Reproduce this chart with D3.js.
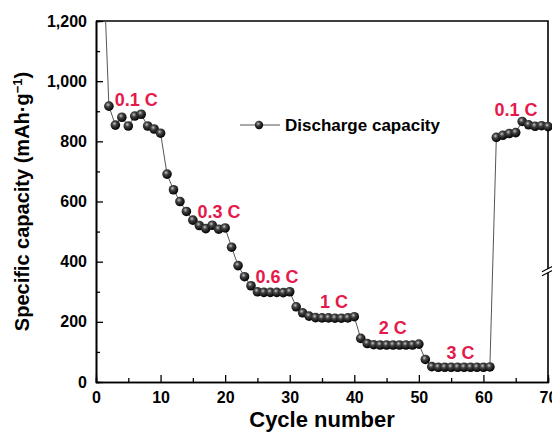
<!DOCTYPE html>
<html>
<head>
<meta charset="utf-8">
<script src="https://cdn.jsdelivr.net/npm/d3@7"></script>
<style>
  body { margin: 0; background: #fff; }
  .chart text { font-family: "Liberation Sans", Arial, sans-serif; font-weight: bold; }
  .axis path, .axis line { stroke: #000; }
  .axis text { font-size: 16px; fill: #000; }
</style>
</head>
<body>
<div class="chart"></div>
<script>
// Cycle numbers and discharge capacity (mAh/g)
var cycles = [1, 2, 3, 4, 5, 6, 7, 8, 9, 10,
    11, 12, 13, 14, 15, 16, 17, 18, 19, 20,
    21, 22, 23, 24, 25, 26, 27, 28, 29, 30,
    31, 32, 33, 34, 35, 36, 37, 38, 39, 40,
    41, 42, 43, 44, 45, 46, 47, 48, 49, 50,
    51, 52, 53, 54, 55, 56, 57, 58, 59, 60,
    61, 62, 63, 64, 65, 66, 67, 68, 69, 70];
var capacity = [1470, 917, 854, 880, 851, 884, 890, 851, 841, 827,
    691, 639, 600, 567, 538, 520, 510, 521, 508, 512,
    448, 387, 350, 320, 300, 298, 298, 298, 297, 300,
    250, 230, 219, 214, 213, 213, 212, 212, 213, 217,
    145, 128, 124, 123, 123, 123, 123, 123, 123, 126,
    75, 51, 49, 49, 49, 49, 49, 49, 49, 49,
    50, 813, 820, 826, 829, 866, 855, 850, 852, 849];

// Rate labels and where they sit (cycle, capacity of text baseline)
var rateLabels = ["0.1 C", "0.3 C", "0.6 C", "1 C", "2 C", "3 C", "0.1 C"];
var rateCycle = [2.9, 15.7, 24.7, 34.7, 43.8, 54.3, 61.7];
var rateCap = [917, 545, 328, 245, 160, 76, 885];

var xTicks = [0, 10, 20, 30, 40, 50, 60, 70];
var yTicks = [0, 200, 400, 600, 800, 1000, 1200];

var svgWidth = 552;
var svgHeight = 434;
var margin = { top: 21, right: 4, bottom: 52, left: 96 };
var width = svgWidth - margin.left - margin.right;
var height = svgHeight - margin.top - margin.bottom;

var svg = d3.select(".chart")
    .append("svg")
    .attr("width", svgWidth)
    .attr("height", svgHeight);

// sphere-like marker
var defs = svg.append("defs");
var grad = defs.append("radialGradient")
    .attr("id", "ball")
    .attr("cx", "40%").attr("cy", "35%").attr("r", "65%");
grad.append("stop").attr("offset", "0%").attr("stop-color", "#c8c8c8");
grad.append("stop").attr("offset", "35%").attr("stop-color", "#444");
grad.append("stop").attr("offset", "100%").attr("stop-color", "#000");

defs.append("clipPath").attr("id", "plotClip")
    .append("rect")
    .attr("x", -10).attr("y", 0)
    .attr("width", width + 20).attr("height", height + 10);

var chart = svg.append("g")
    .attr("transform", `translate(${margin.left}, ${margin.top})`);

var x = d3.scaleLinear().domain([0, 70]).range([0, width]);
var y = d3.scaleLinear().domain([0, 1200]).range([height, 0]);

var data = cycles.map(function(c, i) { return { c: c, v: capacity[i] }; });

// minor ticks
chart.append("g")
    .attr("class", "axis")
    .attr("transform", `translate(0, ${height})`)
    .call(d3.axisBottom(x).tickValues(d3.range(5, 70, 10)).tickSize(-4).tickFormat(""));
chart.append("g")
    .attr("class", "axis")
    .call(d3.axisLeft(y).tickValues(d3.range(100, 1200, 200)).tickSize(-4).tickFormat(""));

// major axes
chart.append("g")
    .attr("class", "axis")
    .attr("transform", `translate(0, ${height})`)
    .call(d3.axisBottom(x).tickValues(xTicks).tickSizeInner(-7).tickSizeOuter(0).tickPadding(10));

chart.append("g")
    .attr("class", "axis")
    .call(d3.axisLeft(y).tickValues(yTicks).tickFormat(d3.format(",")).tickSizeInner(-7).tickSizeOuter(0).tickPadding(9));

chart.selectAll(".axis path").attr("stroke-width", 1.6);
chart.selectAll(".axis line").attr("stroke-width", 1.3);

// frame (top and right)
chart.append("path")
    .attr("d", `M0,0H${width}V${height}`)
    .attr("fill", "none")
    .attr("stroke", "#000")
    .attr("stroke-width", 1.6);

// break mark on right axis
var by = y(370);
chart.append("path")
    .attr("d", `M${width - 6},${by + 1}L${width + 6},${by - 5}L${width + 6},${by - 1}L${width - 6},${by + 5}Z`)
    .attr("fill", "#fff");
chart.append("path")
    .attr("d", `M${width - 6},${by + 1}L${width + 6},${by - 5}M${width - 6},${by + 5}L${width + 6},${by - 1}`)
    .attr("stroke", "#000")
    .attr("stroke-width", 1.2);

// data line and markers
var plot = chart.append("g").attr("clip-path", "url(#plotClip)");

var line = d3.line()
    .x(function(d) { return x(d.c); })
    .y(function(d) { return y(d.v); });

plot.append("path")
    .datum(data)
    .attr("d", line)
    .attr("fill", "none")
    .attr("stroke", "#555")
    .attr("stroke-width", 1);

plot.selectAll("circle")
    .data(data)
    .enter()
    .append("circle")
    .attr("cx", function(d) { return x(d.c); })
    .attr("cy", function(d) { return y(d.v); })
    .attr("r", 4.8)
    .attr("fill", "url(#ball)");

// rate labels
chart.selectAll(".rate")
    .data(rateLabels)
    .enter()
    .append("text")
    .attr("class", "rate")
    .attr("x", function(d, i) { return x(rateCycle[i]); })
    .attr("y", function(d, i) { return y(rateCap[i]); })
    .attr("fill", "#e5194b")
    .style("font-size", "18px")
    .text(function(d) { return d; });

// legend
var legend = chart.append("g")
    .attr("transform", `translate(${240 - margin.left}, ${125 - margin.top})`);
legend.append("line")
    .attr("x1", 0).attr("x2", 40)
    .attr("stroke", "#555").attr("stroke-width", 1);
legend.append("circle")
    .attr("cx", 19).attr("r", 4.2)
    .attr("fill", "url(#ball)");
legend.append("text")
    .attr("x", 45)
    .attr("dy", "0.36em")
    .style("font-size", "17px")
    .text("Discharge capacity");

// axis titles
chart.append("text")
    .attr("transform", "rotate(-90)")
    .attr("x", -height / 2)
    .attr("y", 29 - margin.left)
    .style("text-anchor", "middle")
    .style("font-size", "20px")
    .html("Specific capacity (mAh·g<tspan dy='-7' style='font-size:13px'>−1</tspan><tspan dy='7'>)</tspan>");

chart.append("text")
    .attr("x", width / 2)
    .attr("y", height + 45)
    .style("text-anchor", "middle")
    .style("font-size", "22px")
    .text("Cycle number");
</script>
</body>
</html>
